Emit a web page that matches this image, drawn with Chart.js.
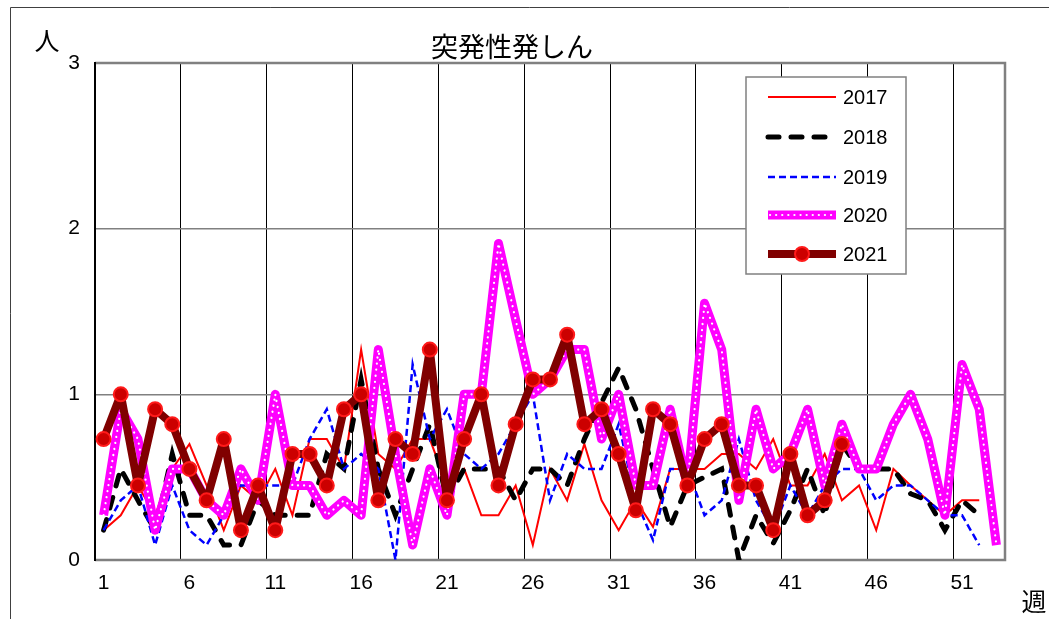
<!DOCTYPE html>
<html>
<head>
<meta charset="utf-8">
<script src="https://cdn.jsdelivr.net/npm/chart.js@4/dist/chart.umd.min.js"></script>
<style>
  html, body { margin: 0; padding: 0; background: #fff; }
  #wrap { width: 1049px; height: 619px; position: relative; }
</style>
</head>
<body>
<div id="wrap"><canvas id="chart"></canvas></div>
<script>
var weeks = ['1','2','3','4','5','6','7','8','9','10','11','12','13','14','15','16','17','18','19','20',
  '21','22','23','24','25','26','27','28','29','30','31','32','33','34','35','36','37','38','39','40',
  '41','42','43','44','45','46','47','48','49','50','51','52','53'];
var tickWeeks = ['1','6','11','16','21','26','31','36','41','46','51'];
var yTicks = [0, 1, 2, 3];

var y2017 = [0.18,0.27,0.45,0.27,0.55,0.7,0.45,0.18,0.45,0.36,0.55,0.27,0.73,0.73,0.55,1.27,0.64,0.55,0.73,0.73,
  0.45,0.55,0.27,0.27,0.45,0.09,0.55,0.36,0.7,0.36,0.18,0.36,0.2,0.55,0.55,0.55,0.64,0.64,0.55,0.73,
  0.45,0.45,0.64,0.36,0.45,0.18,0.55,0.45,0.36,0.27,0.36,0.36,null];
var y2018 = [0.18,0.55,0.36,0.18,0.64,0.27,0.27,0.09,0.09,0.36,0.27,0.27,0.27,0.64,0.55,1.09,0.55,0.27,0.55,0.82,
  0.36,0.55,0.55,0.55,0.36,0.55,0.55,0.45,0.73,0.95,1.16,0.91,0.55,0.2,0.45,0.5,0.55,0,0.27,0.1,
  0.3,0.55,0.27,0.7,0.55,0.55,0.55,0.4,0.36,0.18,0.36,0.27,null];
var y2019 = [0.18,0.36,0.45,0.09,0.45,0.18,0.09,0.27,0.45,0.45,0.45,0.45,0.73,0.91,0.55,0.64,0.55,0,1.18,0.73,
  0.91,0.64,0.55,0.64,0.82,1.0,0.36,0.64,0.55,0.55,0.82,0.36,0.12,0.55,0.55,0.27,0.36,0.73,0.36,0.18,
  0.45,0.27,0.45,0.55,0.55,0.36,0.45,0.45,0.36,0.27,0.27,0.09,null];
var y2020 = [0.27,0.91,0.73,0.18,0.55,0.55,0.36,0.27,0.55,0.36,1.0,0.45,0.45,0.27,0.36,0.27,1.27,0.64,0.09,0.55,
  0.27,1.0,1.0,1.91,1.45,1.0,1.09,1.27,1.27,0.73,1.0,0.45,0.45,0.91,0.45,1.55,1.27,0.36,0.91,0.55,
  0.64,0.91,0.45,0.82,0.55,0.55,0.82,1.0,0.73,0.27,1.18,0.91,0.09];
var y2021 = [0.73,1.0,0.45,0.91,0.82,0.55,0.36,0.73,0.18,0.45,0.18,0.64,0.64,0.45,0.91,1.0,0.36,0.73,0.64,1.27,
  0.36,0.73,1.0,0.45,0.82,1.09,1.09,1.36,0.82,0.91,0.64,0.3,0.91,0.82,0.45,0.73,0.82,0.45,0.45,0.18,
  0.64,0.27,0.36,0.7,null,null,null,null,null,null,null,null,null];

var numFont = '"Liberation Sans", Arial, sans-serif';
var jpFont = '"Noto Sans CJK JP", sans-serif';

// frame, titles and the hand drawn legend
var decor = {
  id: 'decor',
  beforeDatasetsDraw: function(chart) {
    var c = chart.ctx, a = chart.chartArea;
    c.save();
    c.strokeStyle = '#808080';
    c.lineWidth = 2.5;
    c.beginPath();
    c.moveTo(a.left, a.top); c.lineTo(a.right, a.top); c.lineTo(a.right, a.bottom); c.lineTo(a.left, a.bottom);
    c.stroke();
    c.strokeStyle = '#000';
    c.lineWidth = 2;
    c.beginPath(); c.moveTo(a.left, a.top - 1); c.lineTo(a.left, a.bottom + 1); c.stroke();
    c.restore();
  },
  afterDraw: function(chart) {
    var c = chart.ctx;
    c.save();
    c.strokeStyle = '#404040';
    c.lineWidth = 1;
    c.beginPath(); c.moveTo(10.5, 619); c.lineTo(10.5, 7.5); c.lineTo(1049, 7.5); c.stroke();

    c.fillStyle = '#000';
    c.textAlign = 'center';
    c.textBaseline = 'middle';
    c.font = '27px ' + jpFont;
    c.fillText('突発性発しん', 512, 47);
    c.font = '25px ' + jpFont;
    c.fillText('人', 47, 40);
    c.fillText('週', 1034, 601);

    // legend
    var bx = 746, by = 77, bw = 160, bh = 197;
    c.fillStyle = '#fff';
    c.fillRect(bx, by, bw, bh);
    c.strokeStyle = '#808080';
    c.lineWidth = 1.5;
    c.strokeRect(bx, by, bw, bh);
    var rows = [97, 137, 177, 215, 254];
    var order = [0, 1, 2, 3, 5];
    for (var i = 0; i < order.length; i++) {
      var ds = chart.data.datasets[order[i]];
      var yy = rows[i];
      c.save();
      c.strokeStyle = ds.borderColor;
      c.lineWidth = ds.borderWidth;
      c.lineCap = ds.borderCapStyle || 'butt';
      c.setLineDash(ds.borderDash || []);
      c.beginPath(); c.moveTo(768, yy); c.lineTo(836, yy); c.stroke();
      if (i === 3) {
        var dots = chart.data.datasets[4];
        c.strokeStyle = dots.borderColor;
        c.lineWidth = dots.borderWidth;
        c.lineCap = 'round';
        c.setLineDash(dots.borderDash);
        c.beginPath(); c.moveTo(770, yy); c.lineTo(836, yy); c.stroke();
      }
      if (i === 4) {
        c.setLineDash([]);
        c.fillStyle = ds.pointBackgroundColor;
        c.strokeStyle = ds.pointBorderColor;
        c.lineWidth = ds.pointBorderWidth;
        c.beginPath(); c.arc(802, yy, ds.pointRadius, 0, Math.PI * 2); c.fill(); c.stroke();
      }
      c.restore();
      c.fillStyle = '#000';
      c.textAlign = 'left';
      c.textBaseline = 'middle';
      c.font = '20px ' + numFont;
      c.fillText(ds.label, 843, yy + 1);
    }
    c.restore();
  }
};

var ctx = document.getElementById('chart').getContext('2d');
var myChart = new Chart(ctx, {
  type: 'line',
  data: {
    labels: weeks,
    datasets: [{
      label: '2017',
      data: y2017,
      borderColor: '#ff0000',
      borderWidth: 2,
      order: 5,
    }, {
      label: '2018',
      data: y2018,
      borderColor: '#000000',
      borderWidth: 5,
      borderDash: [11, 12],
      borderCapStyle: 'round',
      order: 4,
    }, {
      label: '2019',
      data: y2019,
      borderColor: '#0000ff',
      borderWidth: 2.5,
      borderDash: [7, 4],
      order: 3,
    }, {
      label: '2020',
      data: y2020,
      borderColor: '#ff00ff',
      borderWidth: 9,
      borderJoinStyle: 'round',
      order: 2,
    }, {
      label: '2020dots',
      data: y2020,
      borderColor: '#ffffff',
      borderWidth: 2.2,
      borderDash: [0.1, 6],
      borderCapStyle: 'round',
      order: 1,
    }, {
      label: '2021',
      data: y2021,
      borderColor: '#800000',
      borderWidth: 8,
      borderJoinStyle: 'round',
      pointRadius: 7,
      pointBackgroundColor: '#cc0000',
      pointBorderColor: '#ff1a1a',
      pointBorderWidth: 2,
      order: 0,
    }],
  },
  options: {
    responsive: true,
    maintainAspectRatio: false,
    animation: false,
    layout: { padding: { left: 0, right: 44, top: 63, bottom: 0 } },
    elements: {
      line: { tension: 0, fill: false },
      point: { radius: 0, hoverRadius: 0 },
    },
    plugins: {
      legend: { display: false },
      title: { display: false },
      tooltip: { enabled: false },
    },
    scales: {
      x: {
        offset: true,
        grid: {
          offset: true,
          drawTicks: false,
          lineWidth: 1,
          color: function(c) { return (c.index > 0 && c.index % 5 === 0) ? '#000000' : 'rgba(0,0,0,0)'; },
        },
        border: { display: false },
        ticks: {
          autoSkip: false,
          maxRotation: 0,
          padding: 11,
          color: '#000',
          font: { family: numFont, size: 21 },
          callback: function(v, i) { return tickWeeks.indexOf(weeks[i]) >= 0 ? weeks[i] : ''; },
        },
        afterFit: function(s) { s.height = 59; },
      },
      y: {
        min: 0,
        max: 3,
        afterBuildTicks: function(s) { s.ticks = yTicks.map(function(v) { return { value: v }; }); },
        grid: { drawTicks: false, color: '#808080', lineWidth: 1.5 },
        border: { display: false },
        ticks: {
          padding: 15,
          color: '#000',
          font: { family: numFont, size: 21 },
        },
        afterFit: function(s) { s.width = 95; },
      },
    },
  },
  plugins: [decor],
});
</script>
</body>
</html>
